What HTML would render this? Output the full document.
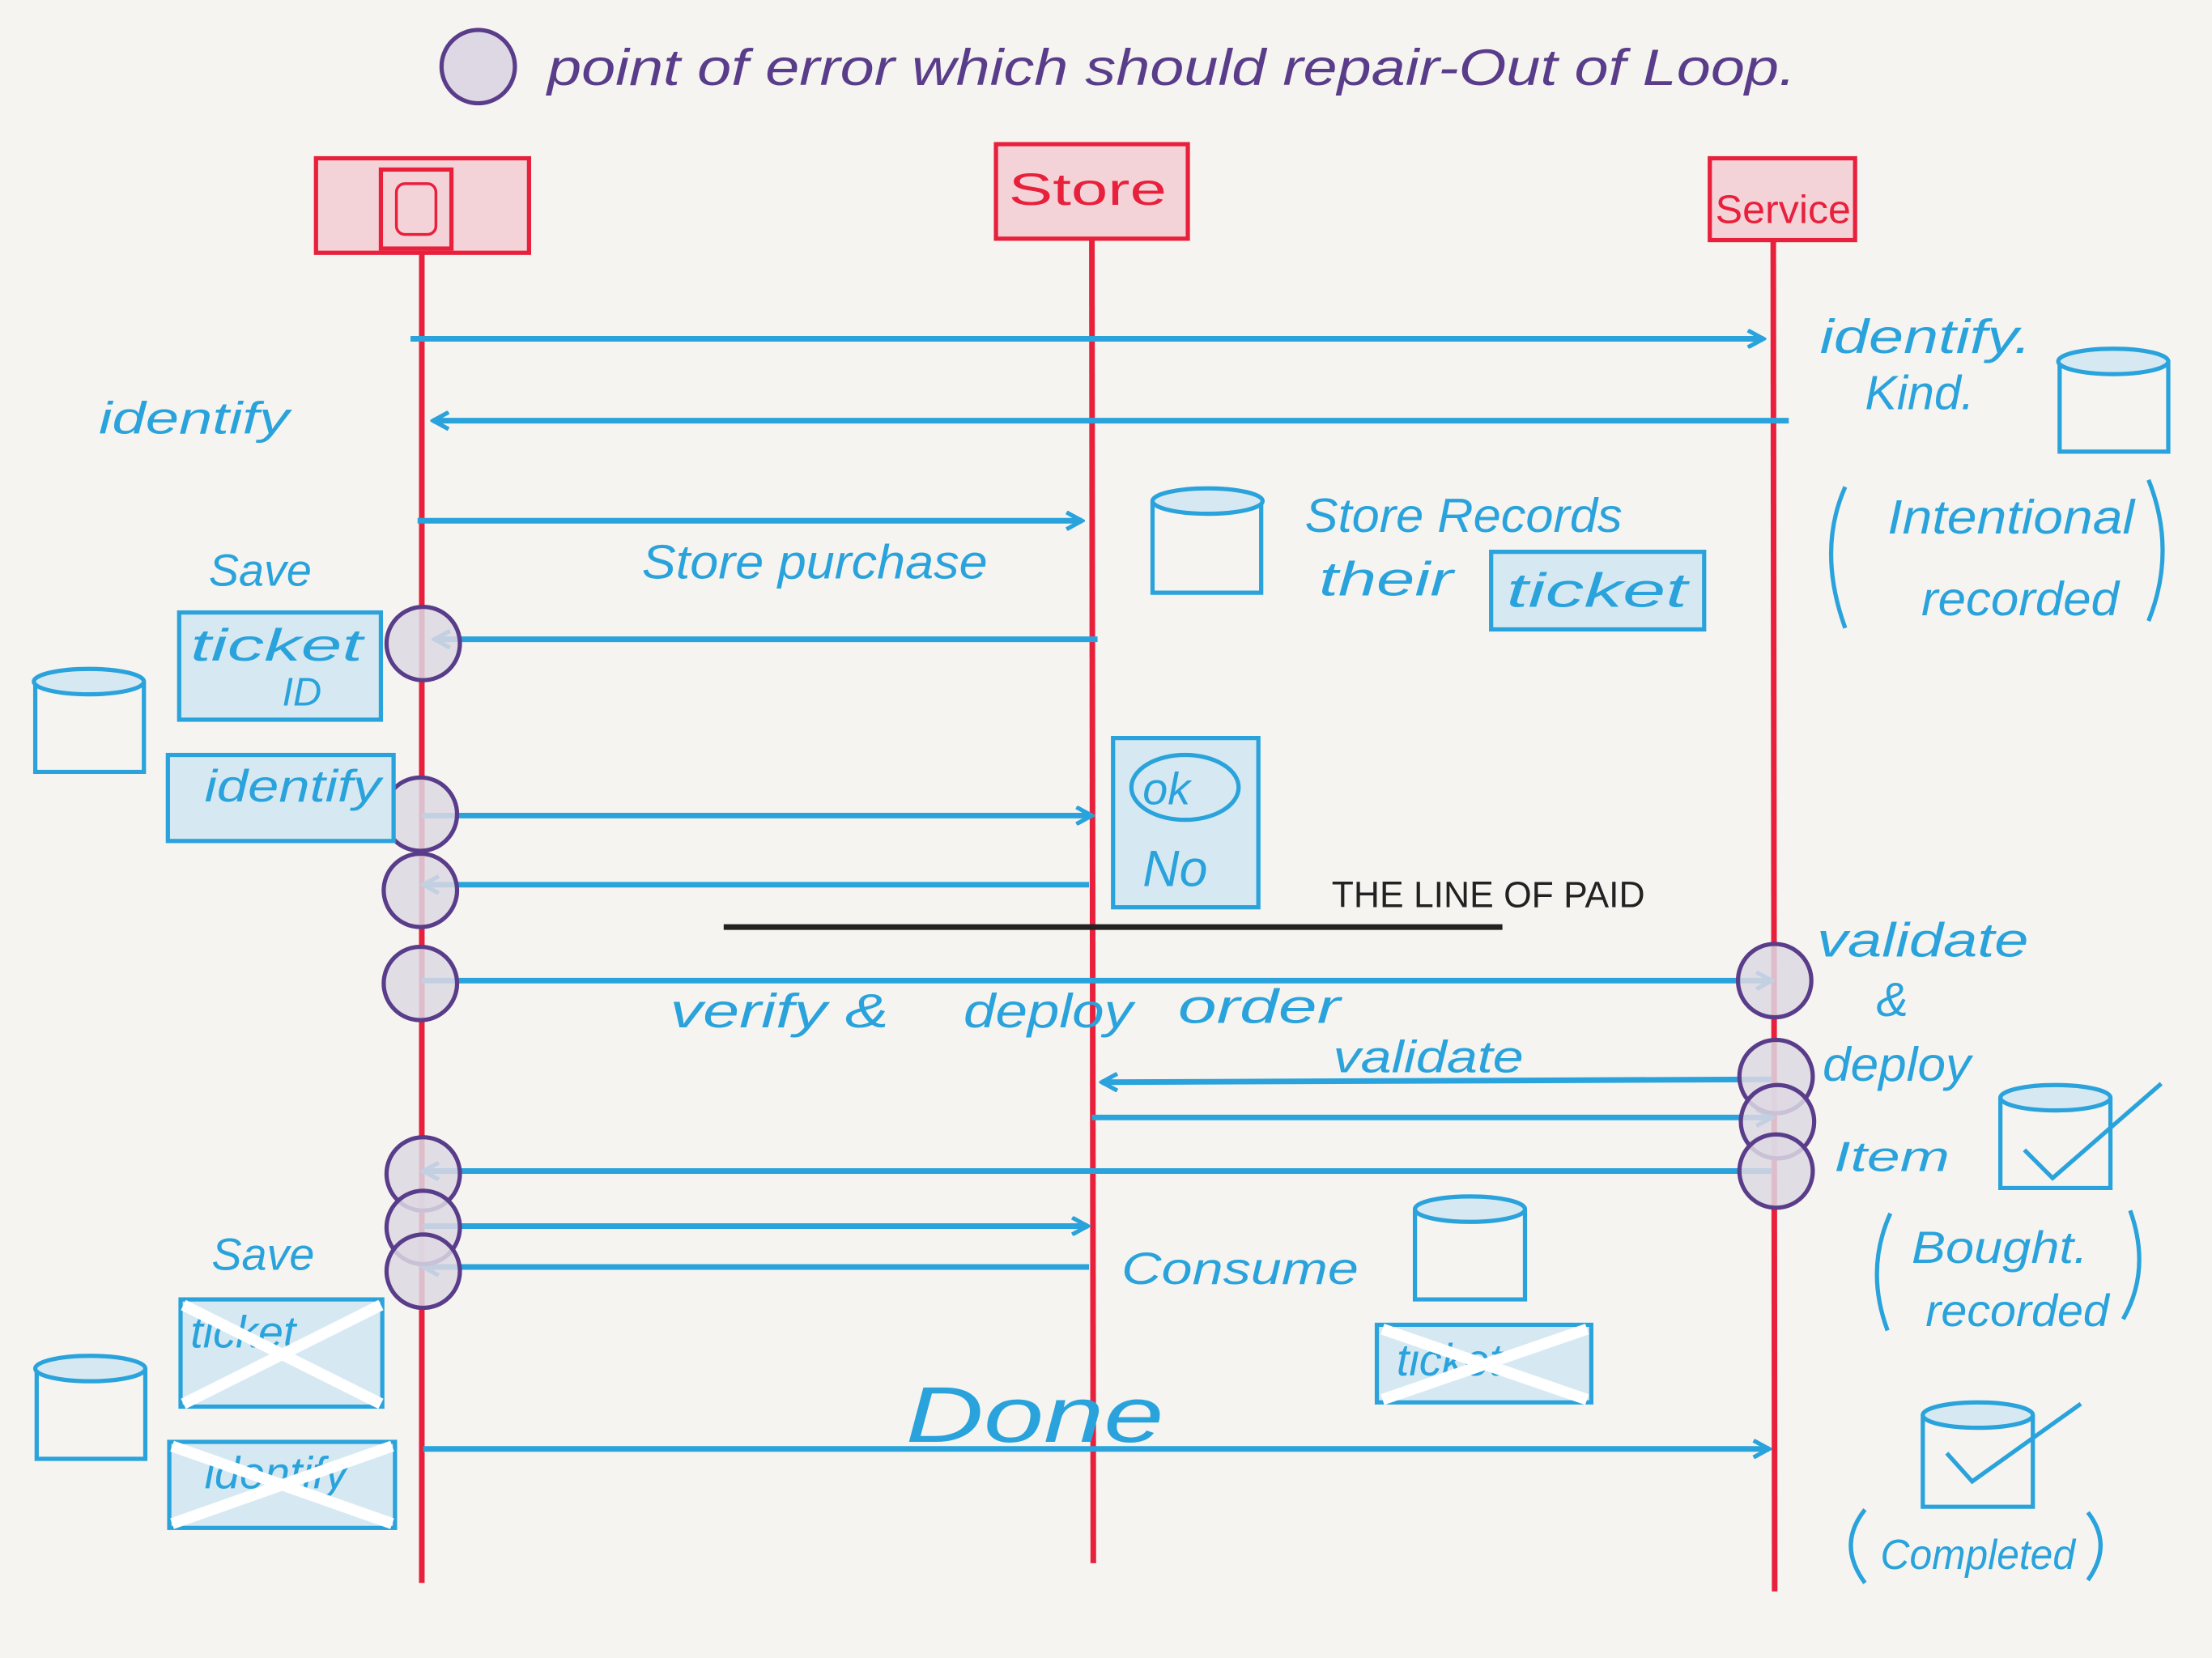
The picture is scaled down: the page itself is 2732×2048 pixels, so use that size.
<!DOCTYPE html>
<html><head><meta charset="utf-8"><style>
html,body{margin:0;padding:0;background:#f5f4f0;}
svg{display:block;}
text{font-family:"Liberation Sans",sans-serif;}
</style></head><body>
<svg width="2732" height="2048" viewBox="0 0 1568 1175" xmlns="http://www.w3.org/2000/svg">
<rect width="1568" height="1175" fill="#f5f4f0"/>
<defs>
<marker id="a" markerWidth="14" markerHeight="14" refX="12" refY="7" orient="auto" markerUnits="userSpaceOnUse">
<path d="M1,1 L12,7 L1,13" fill="none" stroke="#2aa3dc" stroke-width="3"/></marker>
</defs>
<g fill="#ddd8e3" stroke="#5a3d8a" stroke-width="3">
<circle cx="339" cy="47" r="26"/>
</g>
<text x="388" y="60" font-size="36" fill="#5a3d8a" font-style="italic" textLength="885" lengthAdjust="spacingAndGlyphs">point of error which should repair-Out of Loop.</text>

<g fill="#f4d3d8" stroke="#e8203c" stroke-width="3">
<rect x="224" y="112" width="151" height="67"/>
<rect x="270" y="120" width="50" height="56"/>
<rect x="706" y="102" width="136" height="67"/>
<rect x="1212" y="112" width="103" height="58"/>
</g>
<text x="715" y="145" font-size="32" fill="#e8203c" textLength="112" lengthAdjust="spacingAndGlyphs">Store</text>
<text x="1216" y="158" font-size="28" fill="#e8203c" textLength="96" lengthAdjust="spacingAndGlyphs">Service</text>
<rect x="281" y="130" width="28" height="36" rx="6" fill="none" stroke="#e8203c" stroke-width="2"/>

<g stroke="#e8203c" stroke-width="4">
<line x1="299" y1="180" x2="299" y2="1122"/>
<line x1="774" y1="170" x2="775" y2="1108"/>
<line x1="1257" y1="170" x2="1258" y2="1128"/>
</g>

<g stroke="#2aa3dc" stroke-width="4" fill="none" marker-end="url(#a)">
<line x1="291" y1="240" x2="1250" y2="240"/>
<line x1="1268" y1="298" x2="307" y2="298"/>
<line x1="296" y1="369" x2="767" y2="369"/>
<line x1="778" y1="453" x2="308" y2="453"/>
<line x1="299" y1="578" x2="774" y2="578"/>
<line x1="772" y1="627" x2="300" y2="627"/>
<line x1="299" y1="695" x2="1256" y2="695"/>
<line x1="1256" y1="765" x2="781" y2="767"/>
<line x1="774" y1="792" x2="1256" y2="792"/>
<line x1="1256" y1="830" x2="300" y2="830"/>
<line x1="300" y1="869" x2="771" y2="869"/>
<line x1="772" y1="898" x2="300" y2="898"/>
<line x1="300" y1="1027" x2="1254" y2="1027"/>
</g>
<line x1="513" y1="657" x2="1065" y2="657" stroke="#222" stroke-width="4"/>
<text x="944" y="643" font-size="26" fill="#222" textLength="222" lengthAdjust="spacingAndGlyphs">THE LINE OF PAID</text>

<g fill="#ddd8e3" fill-opacity="0.85" stroke="#5a3d8a" stroke-width="3">
<circle cx="300" cy="456" r="26"/>
<circle cx="298" cy="577" r="26"/>
<circle cx="298" cy="631" r="26"/>
<circle cx="298" cy="697" r="26"/>
<circle cx="1258" cy="695" r="26"/>
<circle cx="1259" cy="763" r="26"/>
<circle cx="1260" cy="795" r="26"/>
<circle cx="1259" cy="830" r="26"/>
<circle cx="300" cy="832" r="26"/>
<circle cx="300" cy="870" r="26"/>
<circle cx="300" cy="901" r="26"/>
</g>

<g fill="#d6e9f2" stroke="#2aa3dc" stroke-width="3">
<rect x="127" y="434" width="143" height="76"/>
<rect x="119" y="535" width="160" height="61"/>
<rect x="789" y="523" width="103" height="120"/>
<rect x="1057" y="391" width="151" height="55"/>
<rect x="128" y="921" width="143" height="76"/>
<rect x="120" y="1022" width="160" height="61"/>
<rect x="976" y="939" width="152" height="55"/>
</g>
<g fill="#2aa3dc" font-style="italic" font-size="32">
<text x="135" y="955">ticket</text>
<text x="145" y="1055">identify</text>
<text x="990" y="975">ticket</text>
</g>
<g stroke="#ffffff" stroke-width="8">
<line x1="130" y1="925" x2="270" y2="995"/><line x1="270" y1="925" x2="130" y2="995"/>
<line x1="122" y1="1025" x2="278" y2="1080"/><line x1="278" y1="1025" x2="122" y2="1080"/>
<line x1="980" y1="942" x2="1125" y2="992"/><line x1="1125" y1="942" x2="980" y2="992"/>
</g>
<ellipse cx="840" cy="558" rx="38" ry="23" fill="none" stroke="#2aa3dc" stroke-width="3"/>

<g fill="none" stroke="#2aa3dc" stroke-width="3">
<path d="M25,483 L25,547 L102,547 L102,483"/><ellipse cx="63" cy="483" rx="39" ry="9" fill="#d6e9f2"/>
<path d="M817,355 L817,420 L894,420 L894,355"/><ellipse cx="856" cy="355" rx="39" ry="9" fill="#d6e9f2"/>
<path d="M1460,256 L1460,320 L1537,320 L1537,256"/><ellipse cx="1498" cy="256" rx="39" ry="9" fill="#d6e9f2"/>
<path d="M1418,778 L1418,842 L1496,842 L1496,778"/><ellipse cx="1457" cy="778" rx="39" ry="9" fill="#d6e9f2"/>
<path d="M1003,857 L1003,921 L1081,921 L1081,857"/><ellipse cx="1042" cy="857" rx="39" ry="9" fill="#d6e9f2"/>
<path d="M26,970 L26,1034 L103,1034 L103,970"/><ellipse cx="64" cy="970" rx="39" ry="9" fill="#d6e9f2"/>
<path d="M1363,1003 L1363,1068 L1441,1068 L1441,1003"/><ellipse cx="1402" cy="1003" rx="39" ry="9" fill="#d6e9f2"/>
<path d="M1435,815 L1455,835 L1532,768"/>
<path d="M1380,1030 L1398,1050 L1475,995"/>
<path d="M1308,345 Q1288,390 1308,445"/><path d="M1523,340 Q1543,390 1523,440"/>
<path d="M1340,860 Q1322,900 1338,943"/><path d="M1510,858 Q1525,900 1505,935"/>
<path d="M1322,1070 Q1302,1095 1322,1122"/><path d="M1480,1072 Q1498,1095 1480,1120"/>
</g>

<g fill="#2aa3dc" font-style="italic">
<text x="70" y="307" font-size="32" textLength="135" lengthAdjust="spacingAndGlyphs">identify</text>
<text x="1290" y="250" font-size="34" textLength="150" lengthAdjust="spacingAndGlyphs">identify.</text>
<text x="1322" y="290" font-size="34">Kind.</text>
<text x="1338" y="378" font-size="34" textLength="175" lengthAdjust="spacingAndGlyphs">Intentional</text>
<text x="1362" y="436" font-size="34" textLength="140" lengthAdjust="spacingAndGlyphs">recorded</text>
<text x="455" y="410" font-size="34" textLength="245" lengthAdjust="spacingAndGlyphs">Store purchase</text>
<text x="925" y="377" font-size="34" textLength="225" lengthAdjust="spacingAndGlyphs">Store Records</text>
<text x="935" y="422" font-size="34" textLength="95" lengthAdjust="spacingAndGlyphs">their</text>
<text x="1068" y="430" font-size="34" textLength="128" lengthAdjust="spacingAndGlyphs">ticket</text>
<text x="148" y="415" font-size="32">Save</text>
<text x="135" y="468" font-size="32" textLength="122" lengthAdjust="spacingAndGlyphs">ticket</text>
<text x="200" y="500" font-size="28">ID</text>
<text x="145" y="568" font-size="32" textLength="125" lengthAdjust="spacingAndGlyphs">identify</text>
<text x="810" y="570" font-size="32">ok</text>
<text x="810" y="628" font-size="36">No</text>
<text x="1288" y="678" font-size="34" textLength="150" lengthAdjust="spacingAndGlyphs">validate</text>
<text x="1330" y="720" font-size="34">&amp;</text>
<text x="1292" y="766" font-size="34" textLength="105" lengthAdjust="spacingAndGlyphs">deploy</text>
<text x="1300" y="830" font-size="30" textLength="82" lengthAdjust="spacingAndGlyphs">Item</text>
<text x="1355" y="895" font-size="32" textLength="125" lengthAdjust="spacingAndGlyphs">Bought.</text>
<text x="1365" y="940" font-size="32" textLength="130" lengthAdjust="spacingAndGlyphs">recorded</text>
<text x="475" y="728" font-size="34" textLength="155" lengthAdjust="spacingAndGlyphs">verify &amp;</text>
<text x="683" y="728" font-size="34" textLength="120" lengthAdjust="spacingAndGlyphs">deploy</text>
<text x="835" y="725" font-size="34" textLength="115" lengthAdjust="spacingAndGlyphs">order</text>
<text x="945" y="760" font-size="32" textLength="135" lengthAdjust="spacingAndGlyphs">validate</text>
<text x="150" y="900" font-size="32">Save</text>
<text x="795" y="910" font-size="32" textLength="168" lengthAdjust="spacingAndGlyphs">Consume</text>
<text x="642" y="1022" font-size="56" textLength="183" lengthAdjust="spacingAndGlyphs">Done</text>
<text x="1333" y="1112" font-size="30" textLength="138" lengthAdjust="spacingAndGlyphs">Completed</text>
</g>
</svg>
</body></html>
